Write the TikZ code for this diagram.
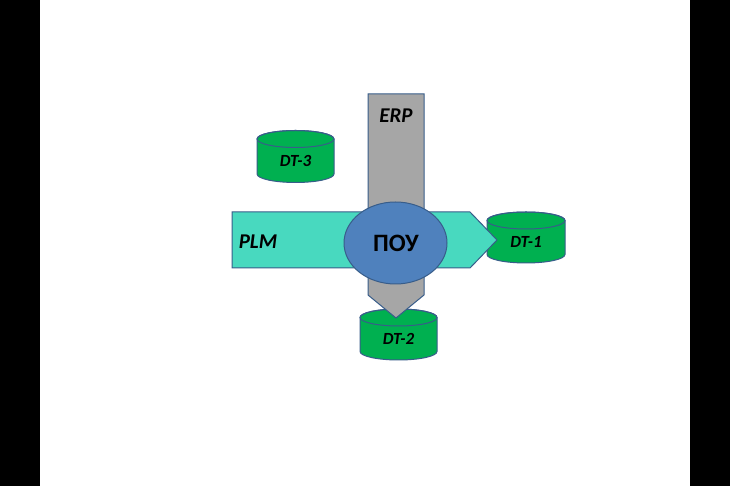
\documentclass[tikz,border=0pt]{standalone}
\usepackage{fontspec}
\setmainfont{Carlito}
\usepackage{tikz}
\usetikzlibrary{calc}

% cylinder: centre x, top y, bottom y, half width, label, name
\newcommand{\dtcyl}[6]{%
\path[draw=lineColor,fill=dtColor,line width=1pt] (#1-#4,#2) -- (#1-#4,#3) arc (180:360:#4 and 8.5) -- (#1+#4,#2) arc (0:180:#4 and 8.5) -- cycle;
\path[draw=lineColor,line width=1pt] (#1,#2) ellipse (#4 and 8.5);
\node[dtlabel] (#6) at (#1,{(#2+#3)/2-4}) {#5};
}

\begin{document}
\begin{tikzpicture}[x=1pt,y=1pt,
  dtlabel/.style={font=\fontsize{17}{19}\selectfont\bfseries\itshape,inner sep=0pt},
  syslabel/.style={font=\fontsize{21}{24}\selectfont\bfseries\itshape,inner sep=0pt}]
\definecolor{fillColor}{RGB}{255,255,255}
\definecolor{lineColor}{RGB}{56,93,138}
\definecolor{dtColor}{RGB}{0,176,80}
\definecolor{erpColor}{RGB}{166,166,166}
\definecolor{plmColor}{RGB}{72,217,191}
\definecolor{pouColor}{RGB}{79,129,189}
\path[use as bounding box,fill=fillColor] (0,0) rectangle (730,486);
\path[fill=black] (0,0) rectangle (40,486);
\path[fill=black] (690,0) rectangle (730,486);

\dtcyl{295.5}{347}{312}{38.5}{DT-3}{dt3}
\dtcyl{526}{265.5}{231.5}{39}{DT-1}{dt1}
\dtcyl{398.5}{168.5}{134.5}{38.5}{DT-2}{dt2}

% ERP
\path[draw=lineColor,fill=erpColor,line width=1pt] (368,392) -- (424,392) -- (424,191) -- (396,168) -- (368,191) -- cycle;
% PLM
\path[draw=lineColor,fill=plmColor,line width=1pt] (232,274) -- (470,274) -- (497,246) -- (470,218) -- (232,218) -- cycle;
% POU
\path[draw=lineColor,fill=pouColor,line width=1pt] (395.5,243) ellipse (51.5 and 41);

\node[syslabel] (erp) at (396,370) {ERP};
\node[syslabel] (plm) at (258,244) {PLM};
\node[font=\fontsize{25}{28}\selectfont\bfseries,inner sep=0pt] (pou) at (396,243) {ПОУ};
\end{tikzpicture}
\end{document}
